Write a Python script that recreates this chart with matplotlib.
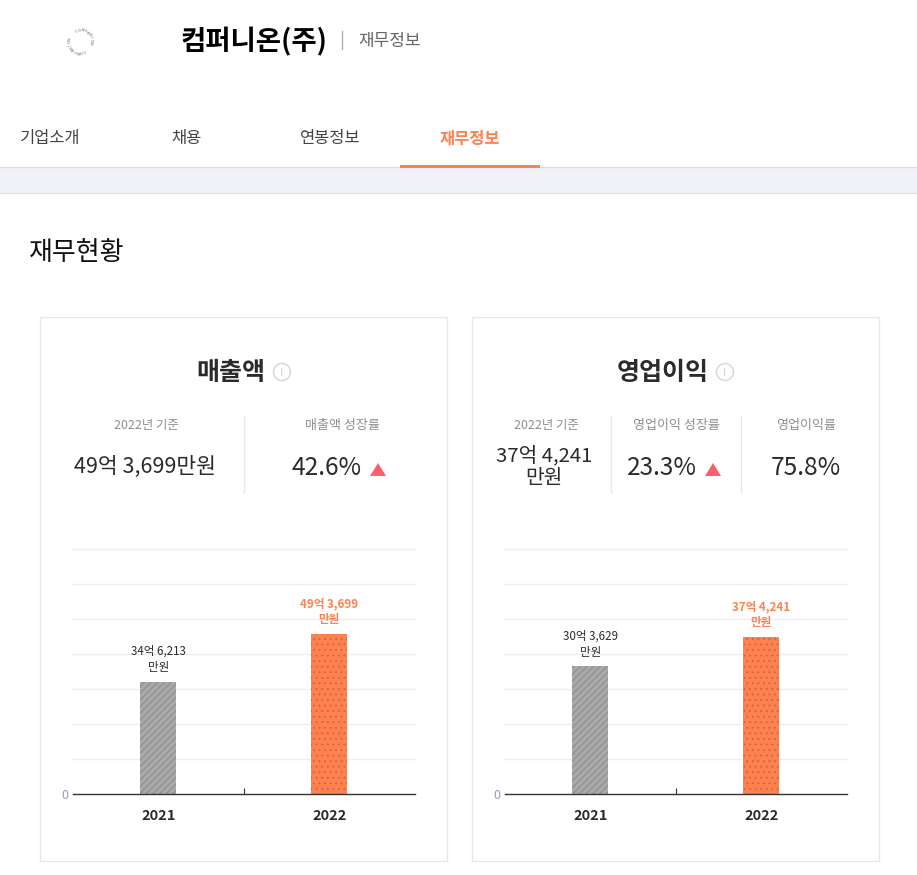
import math
import matplotlib
matplotlib.use("Agg")
import matplotlib.pyplot as plt
from matplotlib.patches import Rectangle, Circle, Polygon

plt.rcParams['font.family'] = ['Noto Sans CJK KR', 'DejaVu Sans']
plt.rcParams['hatch.linewidth'] = 0.6

W, H = 917, 875
years = ['2021', '2022']
sales = [34.6213, 49.3699]
sales_labels = ['34억 6,213\n만원', '49억 3,699\n만원']
profit = [30.3629, 37.4241]
profit_labels = ['30억 3,629\n만원', '37억 4,241\n만원']
tabs = ['기업소개', '채용', '연봉정보', '재무정보']
grid_sales = [10.8, 21.6, 32.4, 43.2, 54.0, 64.8, 75.6]
grid_profit = [8.33, 16.67, 25.0, 33.33, 41.67, 50.0, 58.33]

ORANGE = '#ff8150'
DARK = '#2b2b2b'
GREY = '#8e8e8e'
LINE = '#e6e7ec'

fig = plt.figure(figsize=(W / 100, H / 100), dpi=100, facecolor='white')
bg = fig.add_axes([0, 0, 1, 1])
bg.set_xlim(0, W)
bg.set_ylim(H, 0)
bg.axis('off')


def px(size):
    return size * 0.72


def T(x, y, s, size, color=DARK, weight='normal', ha='center', **kw):
    return bg.text(x, y, s, fontsize=px(size), color=color, fontweight=weight,
                   ha=ha, va='center', **kw)


# logo ring
ring = 'COMPANION · COMPANION · '
for i, ch in enumerate(ring):
    a = 2 * math.pi * i / len(ring) - 0.35
    bg.text(80.5 + 10.5 * math.sin(a), 41 - 10.5 * math.cos(a), ch, fontsize=3.0, color='#666666',
            ha='center', va='center', rotation=-math.degrees(a))

# header
T(180, 42, '컴퍼니온(주)', 27.5, color='black', weight='bold', ha='left')
bg.plot([342, 342], [31, 49], color='#b0b0b0', lw=1)
T(358, 41, '재무정보', 17, color='#666666', ha='left')

# tabs
for x, t, active in zip([50, 186, 330, 470], tabs, [0, 0, 0, 1]):
    T(x, 139, t, 16.5, color=ORANGE if active else '#444444', weight='bold' if active else 'normal')
bg.add_patch(Rectangle((0, 167), W, 26, fc='#f1f2f7', ec='none'))
bg.plot([0, W], [167, 167], color='#e0e0e6', lw=1)
bg.plot([0, W], [193, 193], color='#e0e0e6', lw=1)
bg.add_patch(Rectangle((400, 165), 140, 3, fc=ORANGE, ec='none', zorder=3))

T(29, 252, '재무현황', 26, color='#111111', ha='left')

# cards
for x0 in (40, 472):
    bg.add_patch(Rectangle((x0, 317), 407, 544, fc='white', ec=LINE, lw=1))


def info(cx, cy):
    bg.add_patch(Circle((cx, cy), 8.5, fc='white', ec='#d5d6dd', lw=1))
    T(cx, cy + 1, '!', 11, color='#c8c9d0')


def tri(cx):
    bg.add_patch(Polygon([[cx - 8, 476], [cx + 8, 476], [cx, 463]], closed=True, fc='#f9606c', ec='none'))


# sales card header
T(231, 373, '매출액', 25, weight='bold')
info(282, 372)
T(146, 426, '2022년 기준', 12.4, color=GREY)
T(145, 467, '49억 3,699만원', 21.5)
bg.plot([244, 244], [416, 492], color=LINE, lw=1)
T(342, 426, '매출액 성장률', 13, color=GREY)
T(327, 468, '42.6%', 24.5)
tri(378)

# profit card header
T(663, 373, '영업이익', 25, weight='bold')
info(725, 372)
T(546, 426, '2022년 기준', 12.4, color=GREY)
T(544, 467, '37억 4,241\n만원', 20.3, linespacing=1.08)
bg.plot([611, 611], [416, 492], color=LINE, lw=1)
T(676, 426, '영업이익 성장률', 13, color=GREY)
T(662, 468, '23.3%', 24.5)
tri(713)
bg.plot([741, 741], [416, 492], color=LINE, lw=1)
T(806, 426, '영업이익률', 13, color=GREY)
T(806, 468, '75.8%', 24.5)


def chart(x0, values, labels, grid, ymax):
    ax = fig.add_axes([x0 / W, 1 - 794 / H, 342 / W, 245 / H], facecolor='none')
    ax.set_xlim(-0.5, 1.5)
    ax.set_ylim(0, ymax)
    for g in grid:
        ax.axhline(g, color='#eeeeee', lw=1, zorder=1, clip_on=False)
    ax.bar(0, values[0], width=0.21, facecolor='#a8a8a8', edgecolor='#878787', hatch='/////', lw=0, zorder=2)
    ax.bar(1, values[1], width=0.21, facecolor=ORANGE, edgecolor='#c9673c', hatch='...', lw=0, zorder=2)
    for i, (v, l) in enumerate(zip(values, labels)):
        ax.annotate(l, (i, v), xytext=(0, 5.6), textcoords='offset points', ha='center', va='bottom',
                    fontsize=px(11.6), linespacing=1.3, color=ORANGE if i else DARK,
                    fontweight='bold' if i else 'normal')
    for s in ('top', 'left', 'right'):
        ax.spines[s].set_visible(False)
    ax.spines['bottom'].set_color('#333333')
    ax.spines['bottom'].set_linewidth(1)
    ax.set_xticks([0, 1], years)
    ax.tick_params(axis='x', length=0, pad=10.5)
    for lab in ax.get_xticklabels():
        lab.set_fontsize(px(14.5))
        lab.set_fontweight('bold')
        lab.set_color(DARK)
    ax.set_xticks([0.5], minor=True)
    ax.tick_params(axis='x', which='minor', direction='in', length=4.5, width=0.8, color='#333333')
    ax.set_yticks([0], ['0'])
    ax.tick_params(axis='y', length=0, pad=3, labelsize=px(12.5), labelcolor='#8f9fc4')


chart(72.8, sales, sales_labels, grid_sales, 75.6)
chart(504.8, profit, profit_labels, grid_profit, 58.33)

fig.savefig('out.png', dpi=100)
